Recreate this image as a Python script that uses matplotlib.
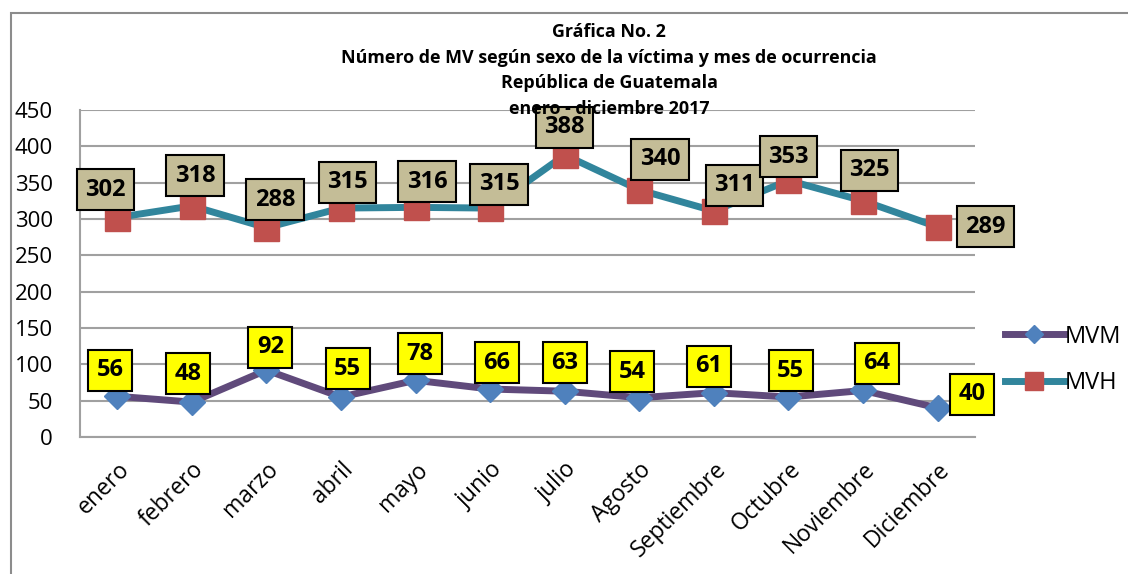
import matplotlib
matplotlib.use('Agg')
import matplotlib.pyplot as plt
from matplotlib.patches import Rectangle

meses = ['enero', 'febrero', 'marzo', 'abril', 'mayo', 'junio', 'julio',
         'Agosto', 'Septiembre', 'Octubre', 'Noviembre', 'Diciembre']
mvm = [56, 48, 92, 55, 78, 66, 63, 54, 61, 55, 64, 40]
mvh = [302, 318, 288, 315, 316, 315, 388, 340, 311, 353, 325, 289]

# desplazamiento de etiquetas (puntos)
off_mvh = [(-8.6, 20), (2.2, 21.6), (6.3, 20), (4.7, 18.7), (8.4, 18.4), (6.5, 17.3),
           (0, 19.9), (14.8, 22), (14.9, 18.7), (0, 17), (4.7, 22), (34.5, 0)]
off_mvm = [(-5, 18.7), (-2.9, 20.5), (2.9, 16.5), (4.8, 20.5), (3.3, 19), (4.8, 19),
           (0, 20.5), (-5, 18.7), (-3.6, 19), (1.5, 19), (9.7, 19.7), (24.5, 10)]

plt.rcParams['font.family'] = ['Open Sans', 'DejaVu Sans']

fig = plt.figure(figsize=(11.28, 5.74), dpi=100)
ax = fig.add_axes([0.0709, 0.2387, 0.7934, 0.5697])

x = list(range(len(meses)))
ax.plot(x, mvm, color='#604A7B', lw=5, marker='D', ms=13.5,
        mfc='#4F81BD', mec='#4F81BD', label='MVM', zorder=3)
ax.plot(x, mvh, color='#31859C', lw=5, marker='s', ms=18,
        mfc='#C0504D', mec='#C0504D', label='MVH', zorder=3)

box_h = dict(boxstyle='square,pad=0.36', fc='#C4BD97', ec='black', lw=1.5)
box_m = dict(boxstyle='square,pad=0.36', fc='#FFFF00', ec='black', lw=1.5)
for i in x:
    ax.annotate(str(mvh[i]), (i, mvh[i]), xytext=off_mvh[i], textcoords='offset points',
                ha='center', va='center', fontsize=17, fontweight='bold',
                bbox=box_h, zorder=5)
    ax.annotate(str(mvm[i]), (i, mvm[i]), xytext=off_mvm[i], textcoords='offset points',
                ha='center', va='center', fontsize=17, fontweight='bold',
                bbox=box_m, zorder=5)

ax.set_xlim(-0.5, len(meses) - 0.5)
ax.set_ylim(0, 450)
ax.set_yticks(range(0, 451, 50))
ax.set_xticks(x)
ax.set_xticklabels(meses, rotation=45, ha='right', rotation_mode='anchor', fontsize=16.5)
ax.tick_params(axis='y', labelsize=16, length=0, pad=19.5)
ax.tick_params(axis='x', length=0, pad=15)
ax.grid(axis='y', color='#A0A0A0', lw=1.5)
ax.set_axisbelow(True)
for s in ['top', 'right']:
    ax.spines[s].set_visible(False)
for s in ['left', 'bottom']:
    ax.spines[s].set_color('#A0A0A0')
    ax.spines[s].set_linewidth(1.5)

leg = ax.legend(loc='center left', bbox_to_anchor=(1.0096, 0.2355), frameon=False,
                fontsize=17, handlelength=2.5, labelspacing=0.95, handletextpad=0.05,
                markerscale=0.7)
leg.set_zorder(6)

titulo = ['Gráfica No. 2',
          'Número de MV según sexo de la víctima y mes de ocurrencia',
          'República de Guatemala',
          'enero - diciembre 2017']
for k, t in enumerate(titulo):
    fig.text(0.54, 1 - (32 + 25.7 * k) / 574, t, ha='center', va='center',
             fontsize=12.9, fontweight='bold', zorder=10)

fig.patches.append(Rectangle((11 / 1128, -0.1), 1.2, 1 - 13 / 574 + 0.1,
                             transform=fig.transFigure, fill=False,
                             ec='#8C8C8C', lw=1.5))

fig.savefig('out.png', dpi=100)
